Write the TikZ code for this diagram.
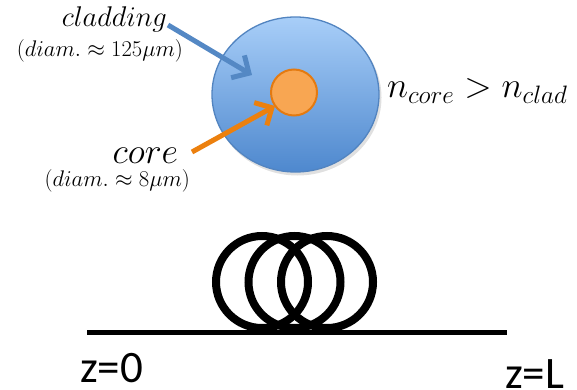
\RequirePackage{fix-cm}
\documentclass[tikz,border=0pt]{standalone}
\usepackage{fontspec}
\newfontfamily\calib{Carlito}
\usetikzlibrary{arrows.meta,shapes.geometric}
\definecolor{cladtop}{RGB}{168,206,248}
\definecolor{cladbot}{RGB}{78,136,206}
\definecolor{cladedge}{RGB}{82,132,192}
\definecolor{corefill}{RGB}{248,166,82}
\definecolor{coreedge}{RGB}{228,122,16}
\definecolor{blueArrow}{RGB}{84,136,196}
\definecolor{orangeArrow}{RGB}{236,128,14}
\tikzset{
  lbl/.style={inner sep=0pt, outer sep=0pt},
  bigmath/.style={lbl, font=\fontsize{36}{40}\selectfont},
  midmath/.style={lbl, font=\fontsize{28.5}{32}\selectfont},
  smallmath/.style={lbl, font=\fontsize{22.6}{26}\selectfont},
  ztext/.style={lbl, font=\fontsize{45}{50}\selectfont\calib},
  pointer/.style={line width=5pt, -{Straight Barb[length=13pt,width=26pt]}},
  coil/.style={draw=black, line width=8pt},
}
\begin{document}
\begin{tikzpicture}[x=1pt,y=-1pt]
\useasboundingbox (0,0) rectangle (577,390);
% shadow
\fill[black!12] (297.5,97.5) ellipse [x radius=84, y radius=78];
% cladding and core
\node[ellipse, minimum width=167pt, minimum height=155pt, inner sep=0pt,
      top color=cladtop, bottom color=cladbot, draw=cladedge, line width=1.3pt] (clad) at (295.5,94.5) {};
\node[circle, minimum size=46pt, inner sep=0pt, fill=corefill, draw=coreedge, line width=2pt] (core) at (294,92.5) {};
% labels
\node[midmath, anchor=base east] (cladlbl) at (167,27) {$cladding$};
\node[smallmath, anchor=base east] (claddiam) at (183,57) {$(diam.\approx 125\mu m)$};
\node[bigmath, anchor=base east] (corelbl) at (178,163) {$core$};
\node[smallmath, anchor=base east] (corediam) at (190,186) {$(diam.\approx 8\mu m)$};
\node[bigmath, anchor=base west] (index) at (387,98) {$n_{core}>n_{clad}$};
% pointers
\coordinate (cladstart) at (168,25);
\coordinate (cladtip) at (252,75);
\coordinate (corestart) at (192,152);
\coordinate (coretip) at (275,106);
\draw[pointer, blueArrow] (cladstart) -- (cladtip);
\draw[pointer, orangeArrow] (corestart) -- (coretip);
% fibre
\coordinate (fibL) at (87,332);
\coordinate (fibR) at (507,332);
\draw[line width=5pt] (fibL) -- (fibR);
\node[circle, coil, minimum size=92pt, inner sep=0pt] (loop1) at (262,282) {};
\node[circle, coil, minimum size=92pt, inner sep=0pt] (loop2) at (294.5,282) {};
\node[circle, coil, minimum size=92pt, inner sep=0pt] (loop3) at (327,282) {};
\node[ztext, anchor=base west] (z0) at (80,382) {z=0};
\node[ztext, anchor=base west] (zL) at (505,388) {z=L};
\end{tikzpicture}
\end{document}
